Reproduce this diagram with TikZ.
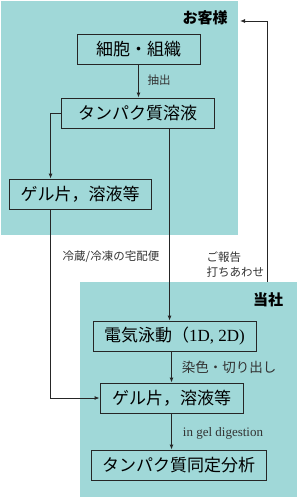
\documentclass[tikz,border=0pt]{standalone}
\usepackage{fontspec}
\setmainfont{Liberation Serif}
\newfontfamily\jpfont{Noto Sans CJK JP}
\usetikzlibrary{arrows.meta}
\definecolor{panelteal}{HTML}{A0D8D8}
\definecolor{notegray}{HTML}{333333}

\tikzset{
  stepbox/.style={draw=black!85, line width=0.9pt, fill=panelteal, minimum height=30pt,
    inner sep=0pt, font=\jpfont\fontsize{17}{20}\selectfont},
  flow/.style={draw=black!85, line width=0.9pt, -{Latex[length=5pt,width=4pt]}},
  note/.style={font=\jpfont\fontsize{11.5}{15}\selectfont, text=notegray},
  party/.style={font=\jpfont\bfseries\fontsize{15}{18}\selectfont},
}

\begin{document}
\begin{tikzpicture}[x=1pt, y=-1pt]
    \useasboundingbox (0,0) rectangle (300,497);
    % customer side and our side
    \fill[panelteal] (1,1) rectangle (238,235);
    \fill[panelteal] (80,282) rectangle (297,497);
    \node[party] (cust) at (205,18) {お客様};
    \node[party] (us) at (268,300) {当社};

    \node[stepbox, minimum width=123pt] (cell) at (138.5,49.5) {細胞・組織};
    \node[stepbox, minimum width=153pt] (prot) at (137.5,113) {タンパク質溶液};
    \node[stepbox, minimum width=142pt] (gelA) at (80,194) {ゲル片，溶液等};
    \node[stepbox, minimum width=163pt] (elec) at (174.5,336) {電気泳動（{\rmfamily 1D, 2D)}};
    \node[stepbox, minimum width=143pt] (gelB) at (171.5,398) {ゲル片，溶液等};
    \node[stepbox, minimum width=175pt] (ident) at (178.5,465) {タンパク質同定分析};

    \node[note] (extract) at (159,80) {抽出};
    \node[note] (ship) at (111,257) {冷蔵/冷凍の宅配便};
    \node[note, align=left, anchor=west] (report) at (203,265) {ご報告\\打ちあわせ};
    \node[note, font=\jpfont\fontsize{13.5}{16}\selectfont] (stain) at (229,367) {染色・切り出し};
    \node[font=\rmfamily\fontsize{13}{15}\selectfont, text=notegray] (digest) at (223,433) {in gel digestion};

    \coordinate (gelAin) at ([xshift=42pt]gelA.north west);
    \coordinate (gelAout) at ([xshift=42pt]gelA.south west);
    \coordinate (protout) at ([xshift=109pt]prot.south west);
    \coordinate (reportfrom) at (267,282);
    \coordinate (reportto) at (240,21);

    \draw[flow] (cell.south) -- (cell.south |- prot.north);
    \draw[flow] (prot.west) -| (gelAin);
    \draw[flow] (gelAout) |- (gelB.west);
    \draw[flow] (protout) -- (protout |- elec.north);
    \draw[flow] (gelB.north |- elec.south) -- (gelB.north);
    \draw[flow] (gelB.south) -- (gelB.south |- ident.north);
    \draw[flow] (reportfrom) |- (reportto);
\end{tikzpicture}
\end{document}
